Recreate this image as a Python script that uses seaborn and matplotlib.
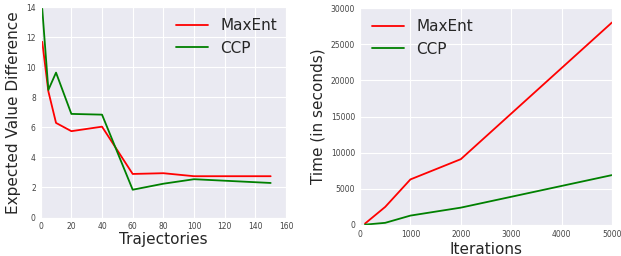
import matplotlib
matplotlib.use("Agg")
import matplotlib.pyplot as plt
import seaborn as sns
import pandas as pd

# left panel: expected value difference vs trajectories
trajectories = [1, 5, 10, 20, 40, 60, 80, 100, 150]
maxent_evd = [11.7, 8.4, 6.3, 5.75, 6.05, 2.9, 2.95, 2.75, 2.75]
ccp_evd = [13.9, 8.5, 9.65, 6.9, 6.85, 1.85, 2.25, 2.55, 2.3]

# right panel: runtime vs iterations
iterations = [100, 500, 1000, 2000, 5000]
maxent_time = [200, 2500, 6300, 9100, 28000]
ccp_time = [50, 300, 1300, 2400, 6900]

sns.set_style("darkgrid")
plt.rcParams["font.family"] = ["DejaVu Sans"]

fig = plt.figure(figsize=(6.21, 2.56), dpi=100)
ax1 = fig.add_axes([40.7 / 621, (256 - 217.5) / 256, (286 - 40.7) / 621, (217.5 - 7.3) / 256])
ax2 = fig.add_axes([360 / 621, (256 - 225) / 256, (612 - 360) / 621, (225 - 8) / 256])

df_left = pd.DataFrame({
    "x": trajectories * 2,
    "y": maxent_evd + ccp_evd,
    "method": ["MaxEnt"] * len(trajectories) + ["CCP"] * len(trajectories),
})
df_right = pd.DataFrame({
    "x": iterations * 2,
    "y": maxent_time + ccp_time,
    "method": ["MaxEnt"] * len(iterations) + ["CCP"] * len(iterations),
})
palette = {"MaxEnt": "red", "CCP": "green"}

sns.lineplot(data=df_left, x="x", y="y", hue="method", palette=palette, ax=ax1, linewidth=1.3)
sns.lineplot(data=df_right, x="x", y="y", hue="method", palette=palette, ax=ax2, linewidth=1.3)

ax1.set_xlim(0, 160)
ax1.set_ylim(0, 14)
ax1.set_xlabel("Trajectories", fontsize=11)
ax1.set_ylabel("Expected Value Difference", fontsize=11)
ax1.xaxis.set_label_coords(0.5, -0.07)
ax1.yaxis.set_label_coords(-0.08, 0.5)

ax2.set_xlim(0, 5000)
ax2.set_ylim(0, 30000)
ax2.set_xlabel("Iterations", fontsize=11)
ax2.set_ylabel("Time (in seconds)", fontsize=11)
ax2.xaxis.set_label_coords(0.5, -0.078)
ax2.yaxis.set_label_coords(-0.135, 0.5)

for ax in (ax1, ax2):
    ax.tick_params(labelsize=5.5, colors="#444444", length=0, pad=3.5)

ax1.legend(title=None, fontsize=11, frameon=False, handlelength=2.1, handletextpad=0.8,
           loc="upper left", bbox_to_anchor=(0.552, 0.949), borderpad=0, borderaxespad=0)
ax2.legend(title=None, fontsize=11, frameon=False, handlelength=2.1, handletextpad=0.8,
           loc="upper left", bbox_to_anchor=(0.048, 0.949), borderpad=0, borderaxespad=0)

fig.savefig("out.png", dpi=100)
